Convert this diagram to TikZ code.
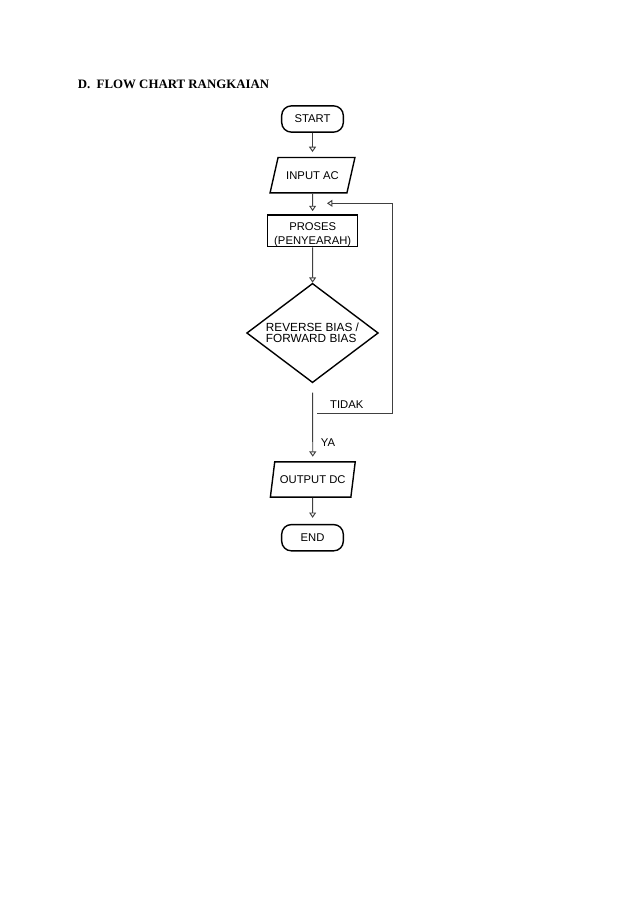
\documentclass[tikz,border=0pt]{standalone}
\usepackage{fontspec}
\setmainfont{Liberation Serif}
\setsansfont{Liberation Sans}
\usetikzlibrary{shapes.geometric,arrows.meta}
\tikzset{every node/.style={font=\sffamily\fontsize{10.5}{12.4}\selectfont},
  terminal/.style={draw, line width=1.3pt, rounded corners=9pt, minimum width=57.5pt,
      minimum height=24.5pt, inner sep=0pt},
  io/.style={draw, line width=1.3pt, trapezium, trapezium left angle=68,
      trapezium right angle=112, trapezium stretches=true, minimum width=79.5pt,
      minimum height=33pt, inner xsep=0pt},
  process/.style={draw, line width=1.3pt, minimum width=84pt, inner sep=0pt,
      text height=27.2pt, text depth=2.4pt, align=center},
  decision/.style={draw, diamond, aspect=1.32, line width=1.3pt, minimum width=122.8pt,
      minimum height=92.7pt, inner sep=0pt, align=left,
      font=\sffamily\fontsize{11}{10.5}\selectfont},
  flow/.style={-{Triangle[open,length=5pt,width=6.5pt]}, line width=0.9pt, black!75}}

\begin{document}
\begin{tikzpicture}[x=0.93304pt, y=-0.93304pt]
    \useasboundingbox (0,0) rectangle (638,902);
    \node[anchor=base west, font=\rmfamily\bfseries\fontsize{12}{14}\selectfont] (title)
      at (74,88.5) {D.\ \ FLOW CHART RANGKAIAN};
    \node[terminal] (start) at (312.5,119) {START};
    \node[io] (input) at (312.5,175.2) {INPUT AC};
    \node[process] (proses) at (312.7,230.9) {PROSES\\(PENYEARAH)};
    \node[decision] (dec) at (312.5,333) {REVERSE BIAS /\\FORWARD BIAS};
    \node[io, trapezium left angle=76, trapezium right angle=104] (output)
      at (312.8,479.5) {OUTPUT DC};
    \node[terminal] (end) at (312.5,537.7) {END};
    % loop back when the answer is no
    \coordinate (tidak) at (317,413.5);
    \coordinate (rightup) at (392,203.3);
    \coordinate (back) at (327,203.3);
    \draw[flow, shorten >=4.4pt] (start) -- (input);
    \draw[flow, shorten >=3pt] (input) -- (proses);
    \draw[flow] (proses) -- (dec);
    \draw[flow, shorten <=8.7pt, shorten >=4.1pt] (dec) -- (output);
    \draw[flow, shorten >=5.6pt] (output) -- (end);
    \draw[flow] (tidak) -| (rightup) -- (back);
    \node (tidaklbl) at (346.7,405) {TIDAK};
    \node (yalbl) at (328,442.7) {YA};
  \end{tikzpicture}
\end{document}
